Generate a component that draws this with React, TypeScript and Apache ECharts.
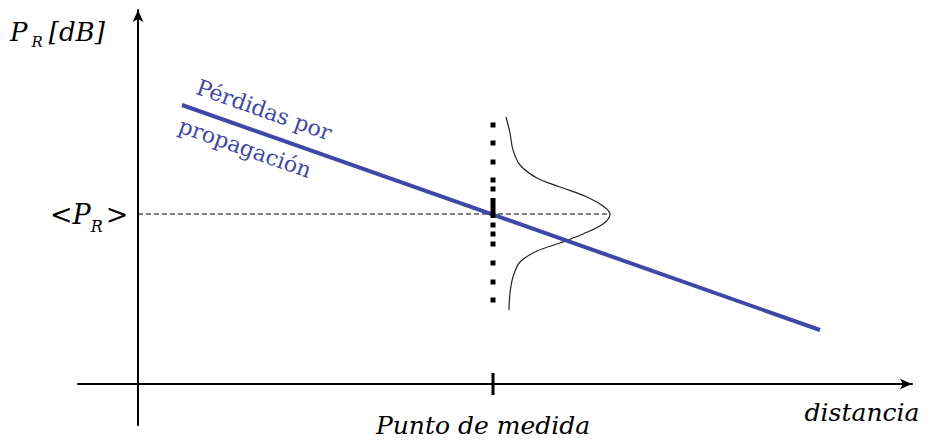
import React, { useEffect, useRef } from "react";
import * as echarts from "echarts";

// Values (x: distance units, y: received power units)
const lossLine: number[][] = [[44, 279], [682, 54]];
const meanLevel = 170;
const measurePoint = 355;
const meanLine: number[][] = [[0, meanLevel], [472, meanLevel]];
const gaussCurve: number[][] = [
  [368, 267], [372, 251], [375, 234], [382, 219], [399, 206], [422, 197],
  [449, 187], [465, 178], [472, 170], [465, 160], [445, 150], [422, 141],
  [399, 133], [382, 122], [375, 107], [372, 91], [371, 74],
];
const sampleDots: number[] = [259, 241, 222, 204, 195, 159, 150, 140, 121, 102, 84];
const sampleSolid: number[] = [186, 166];
const tickSpan: number[] = [11, -11];

const BLUE = "#3f48a6";
const SERIF = "DejaVu Serif, serif";

export default function App() {
  const ref = useRef<HTMLDivElement>(null);
  useEffect(() => {
    if (!ref.current) return;
    const chart = echarts.init(ref.current, null, { renderer: "svg" });
    chart.setOption({
      animation: false,
      backgroundColor: "#fff",
      grid: { left: 78, right: 16, top: 10, bottom: 16 },
      xAxis: {
        type: "value", min: -60, max: 774,
        axisLine: { show: true, onZero: true, symbol: ["none", "arrow"], symbolSize: [8, 12], lineStyle: { color: "#000", width: 2 } },
        axisTick: { show: false }, axisLabel: { show: false }, splitLine: { show: false },
      },
      yAxis: {
        type: "value", min: -41, max: 374,
        axisLine: { show: true, onZero: true, symbol: ["none", "arrow"], symbolSize: [8, 12], lineStyle: { color: "#000", width: 2 } },
        axisTick: { show: false }, axisLabel: { show: false }, splitLine: { show: false },
      },
      series: [
        {
          type: "line", data: meanLine, symbol: "none",
          lineStyle: { color: "#000", width: 1.2, type: [5, 3] }, z: 2,
        },
        {
          type: "line", data: gaussCurve, symbol: "none", smooth: 0.35,
          lineStyle: { color: "#222", width: 1.2 }, z: 2,
        },
        {
          type: "line", data: lossLine, symbol: "none",
          lineStyle: { color: BLUE, width: 4 }, z: 3,
        },
        {
          type: "scatter", data: sampleDots.map((v) => [measurePoint, v]),
          symbol: "rect", symbolSize: [5, 5], itemStyle: { color: "#000", opacity: 1 }, z: 4,
        },
        {
          type: "line", data: sampleSolid.map((v) => [measurePoint, v]), symbol: "none",
          lineStyle: { color: "#000", width: 5 }, z: 4,
        },
        {
          type: "line", data: tickSpan.map((v) => [measurePoint, v]), symbol: "none",
          lineStyle: { color: "#000", width: 3 }, z: 4,
        },
      ],
      graphic: [
        {
          type: "text", left: 10, top: 19,
          style: {
            text: "{a|P}{s|R}{a|[dB]}",
            rich: {
              a: { fontFamily: SERIF, fontStyle: "italic", fontSize: 26, fill: "#000", verticalAlign: "top", lineHeight: 26 },
              s: { fontFamily: SERIF, fontStyle: "italic", fontSize: 15, fill: "#000", verticalAlign: "bottom", lineHeight: 30, padding: [0, 6, 0, 4] },
            },
          },
        },
        {
          type: "text", left: 50, top: 201,
          style: {
            text: "{a|<P}{s|R}{a|>}",
            rich: {
              a: { fontFamily: SERIF, fontStyle: "italic", fontSize: 27, fill: "#000", verticalAlign: "top", lineHeight: 27 },
              s: { fontFamily: SERIF, fontStyle: "italic", fontSize: 16, fill: "#000", verticalAlign: "bottom", lineHeight: 33, padding: [0, 3, 0, 0] },
            },
          },
        },
        {
          type: "text", x: 483, y: 425,
          style: { text: "Punto de medida", fontFamily: SERIF, fontStyle: "italic", fontSize: 25, fill: "#000", textAlign: "center", textVerticalAlign: "middle" },
        },
        {
          type: "text", x: 862, y: 412,
          style: { text: "distancia", fontFamily: SERIF, fontStyle: "italic", fontSize: 25, fill: "#000", textAlign: "center", textVerticalAlign: "middle" },
        },
        {
          type: "text", x: 264, y: 110, rotation: -0.34,
          style: { text: "Pérdidas por", fontFamily: SERIF, fontSize: 22, fill: BLUE, textAlign: "center", textVerticalAlign: "middle" },
        },
        {
          type: "text", x: 245, y: 148, rotation: -0.34,
          style: { text: "propagación", fontFamily: SERIF, fontSize: 22, fill: BLUE, textAlign: "center", textVerticalAlign: "middle" },
        },
      ],
    });
    return () => chart.dispose();
  }, []);
  return <div ref={ref} style={{ position: "fixed", left: 0, top: 0, width: 928, height: 441 }} />;
}
